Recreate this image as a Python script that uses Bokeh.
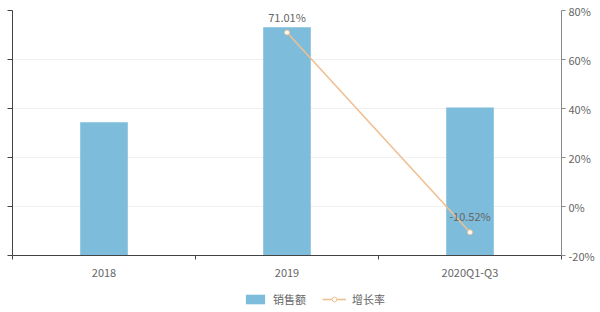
from bokeh.plotting import figure
from bokeh.layouts import column
from bokeh.models import (Range1d, LinearAxis, FixedTicker, Legend, LegendItem,
                          ColumnDataSource, CustomJSTickFormatter)
from bokeh.embed import file_html
from bokeh.resources import INLINE
from bokeh.core.properties import value

# ---- data ----
categories = ["2018", "2019", "2020Q1-Q3"]
sales = [136, 233, 151]            # 销售额 (left axis, labels not shown in reference)
growth = [None, 71.01, -10.52]     # 增长率 (%)
growth_labels = ["", "71.01%", "-10.52%"]
series_names = ["销售额", "增长率"]

FONT = "Noto Sans CJK SC"
BAR_COLOR = "#7dbcda"
LINE_COLOR = "#efbf93"
LABEL_COLOR = "#666666"

xs = [i + 0.5 for i in range(len(categories))]

p = figure(width=600, height=282, output_backend="svg", toolbar_location=None,
           x_range=Range1d(0, len(categories)), y_range=Range1d(0, 250))
p.min_border_left = 12
p.min_border_right = 39
p.min_border_top = 10
p.min_border_bottom = 27
p.outline_line_color = None
p.background_fill_color = "white"
p.border_fill_color = "white"

p.extra_y_ranges = {"pct": Range1d(-20, 80)}

src_bar = ColumnDataSource(dict(x=xs, top=sales))
p.vbar(x="x", top="top", width=0.26, bottom=0, source=src_bar,
       fill_color=BAR_COLOR, line_color=None)

lx = [x for x, g in zip(xs, growth) if g is not None]
ly = [g for g in growth if g is not None]
ll = [t for t, g in zip(growth_labels, growth) if g is not None]
src_line = ColumnDataSource(dict(x=lx, y=ly, t=ll))
p.line("x", "y", source=src_line, y_range_name="pct",
       line_color=LINE_COLOR, line_width=1.6)
p.scatter("x", "y", source=src_line, y_range_name="pct", size=5,
          fill_color="white", line_color=LINE_COLOR, line_width=1)
p.text("x", "y", text="t", source=src_line, y_range_name="pct",
       text_align="center", text_baseline="bottom", y_offset=-8,
       text_font=value(FONT), text_font_size="11px", text_color=LABEL_COLOR)

# x axis: labels at centres, ticks at boundaries
xa = p.xaxis[0]
xa.ticker = FixedTicker(ticks=xs, minor_ticks=list(range(len(categories) + 1)))
xa.major_label_overrides = {x: c for x, c in zip(xs, categories)}
xa.major_tick_out = 0
xa.major_tick_in = 0
xa.minor_tick_out = 4
xa.minor_tick_in = 0
xa.axis_line_color = "#444444"
xa.minor_tick_line_color = "#444444"
xa.major_label_text_font = FONT
xa.major_label_text_font_size = "11px"
xa.major_label_text_color = LABEL_COLOR
xa.major_label_standoff = 4

# left axis (labels cropped out in reference)
ya = p.yaxis[0]
ya.ticker = FixedTicker(ticks=[0, 50, 100, 150, 200, 250])
ya.formatter = CustomJSTickFormatter(code="return ''")
ya.major_tick_out = 5
ya.major_tick_in = 0
ya.minor_tick_line_color = None
ya.axis_line_color = "#444444"
ya.major_tick_line_color = "#444444"
ya.major_label_standoff = 0

# right axis
ra = LinearAxis(y_range_name="pct", ticker=FixedTicker(ticks=[-20, 0, 20, 40, 60, 80]))
ra.formatter = CustomJSTickFormatter(code="return tick + '%'")
ra.major_tick_out = 4
ra.major_tick_in = 0
ra.minor_tick_line_color = None
ra.axis_line_color = "#888888"
ra.major_tick_line_color = "#888888"
ra.major_label_text_font = FONT
ra.major_label_text_font_size = "11px"
ra.major_label_text_color = LABEL_COLOR
ra.major_label_standoff = 3
p.add_layout(ra, "right")

p.xgrid.grid_line_color = None
p.ygrid.grid_line_color = "#f0f0f0"
p.ygrid.ticker = ya.ticker

# ---- legend strip (same series, ranges chosen so only the legend shows) ----
lg = figure(width=600, height=30, output_backend="svg", toolbar_location=None,
            x_range=Range1d(1000, 1001), y_range=Range1d(1000, 1001))
lg.axis.visible = False
lg.grid.visible = False
lg.outline_line_color = None
lg.min_border = 0
r_bar = lg.vbar(x="x", top="top", width=0.26, bottom=0, source=src_bar,
                fill_color=BAR_COLOR, line_color=None)
r_line = lg.line("x", "y", source=src_line, line_color=LINE_COLOR, line_width=1.6)
r_pt = lg.scatter("x", "y", source=src_line, size=9, fill_color="white",
                  line_color=LINE_COLOR, line_width=1)
legend = Legend(items=[LegendItem(label=series_names[0], renderers=[r_bar]),
                       LegendItem(label=series_names[1], renderers=[r_line, r_pt])],
                orientation="horizontal", location=(231, 5),
                label_text_font=FONT, label_text_font_size="11px",
                label_text_color=LABEL_COLOR, glyph_width=24, glyph_height=12,
                spacing=16, label_standoff=6, border_line_color=None,
                margin=0, padding=4, background_fill_alpha=0)
lg.add_layout(legend)

layout = column(p, lg, spacing=0)
open("out.html", "w").write(file_html(layout, INLINE))
